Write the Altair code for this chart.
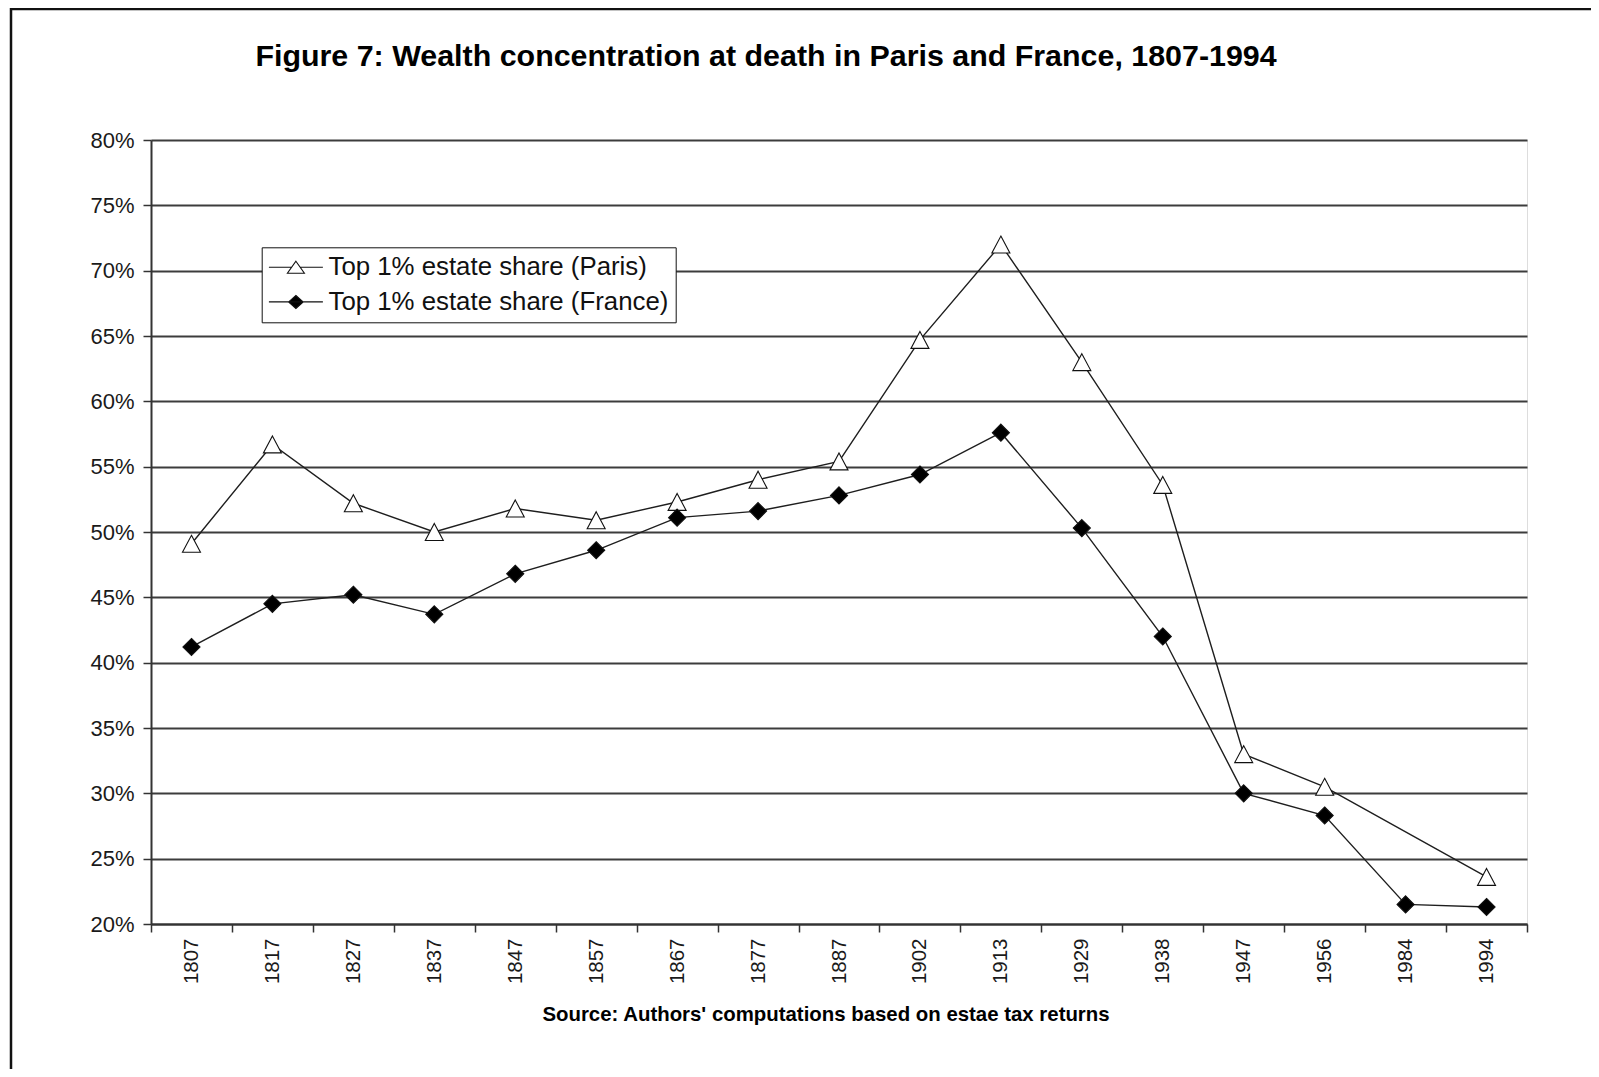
import altair as alt
import pandas as pd

FONT = "Liberation Sans"

years = ["1807", "1817", "1827", "1837", "1847", "1857", "1867", "1877", "1887",
         "1902", "1913", "1929", "1938", "1947", "1956", "1984", "1994"]
paris = [49.1, 56.7, 52.2, 50.0, 51.8, 50.9, 52.3, 54.0, 55.4,
         64.7, 72.0, 63.0, 53.6, 33.0, 30.5, None, 23.6]
france = [41.2, 44.5, 45.2, 43.7, 46.8, 48.6, 51.1, 51.6, 52.8,
          54.4, 57.6, 50.3, 42.0, 30.0, 28.3, 21.5, 21.3]
series_names = ["Top 1% estate share (Paris)", "Top 1% estate share (France)"]
y_ticks = [20, 25, 30, 35, 40, 45, 50, 55, 60, 65, 70, 75, 80]

title_text = "Figure 7: Wealth concentration at death in Paris and France, 1807-1994"
source_text = "Source: Authors' computations based on estae tax returns"

rows = []
for name, vals in zip(series_names, [paris, france]):
    for yr, v in zip(years, vals):
        rows.append({"year": yr, "share": v, "series": name})
df = pd.DataFrame(rows)

# marker shapes (custom symbol paths)
tri_path = "M0,-0.94L1,0.94L-1,0.94Z"
dia_path = "M0,-0.95L0.95,0L0,0.95L-0.95,0Z"
# legend symbols: line with marker in the middle
leg_tri = "M-2.7,0H-0.43M0.43,0H2.7M0,-0.6L0.85,0.6L-0.85,0.6Z"
leg_dia = "M-2.7,0H2.7M0,-0.65L0.73,0L0,0.65L-0.73,0Z"

x_enc = alt.X(
    "year:O", sort=years,
    scale=alt.Scale(type="band", paddingInner=0, paddingOuter=0),
    axis=alt.Axis(
        labelAngle=270, labelFont=FONT, labelFontSize=20.5, labelColor="#1a1a1a",
        labelPadding=6, tickBand="extent", tickSize=8, tickColor="#333",
        tickWidth=1.5, domainColor="#333", domainWidth=2, grid=False,
        title=source_text, titleFont=FONT, titleFontSize=20.4, titleFontWeight="bold",
        titleColor="#000", titleX=674.5, titleY=90, titleBaseline="middle",
        titleAlign="center",
    ),
)
y_enc = alt.Y(
    "share:Q",
    scale=alt.Scale(domain=[20, 80], nice=False, zero=False),
    axis=alt.Axis(
        values=y_ticks, labelExpr="datum.value + '%'", title=None,
        labelFont=FONT, labelFontSize=22, labelColor="#1a1a1a", labelPadding=9,
        tickSize=8, tickColor="#333", tickWidth=1.5, domainColor="#333",
        domainWidth=2, grid=True, gridColor="#3c3c3c", gridWidth=1.8,
    ),
)

frame = alt.Chart(pd.DataFrame({"k": [0]})).mark_rect(
    fillOpacity=0, stroke="#111", strokeWidth=2.5
).encode(
    x=alt.value(-140), x2=alt.value(3000), y=alt.value(-131), y2=alt.value(3000)
)

lines = alt.Chart(df).transform_filter("isValid(datum.share)").mark_line(
    color="#1e1e1e", strokeWidth=1.4
).encode(x=x_enc, y=y_enc, detail="series:N")

points = alt.Chart(df).transform_filter("isValid(datum.share)").mark_point(
    filled=True, stroke="#111", strokeWidth=1.1, size=324, opacity=1
).encode(
    x=x_enc, y=y_enc,
    shape=alt.Shape("series:N", scale=alt.Scale(domain=series_names, range=[tri_path, dia_path]), legend=None),
    fill=alt.Fill("series:N", scale=alt.Scale(domain=series_names, range=["white", "#000"]), legend=None),
)

leg = alt.Legend(
    title=None, orient="none", legendX=110.7, legendY=107.3, padding=7,
    strokeColor="#111", fillColor="white",
    labelFont=FONT, labelFontSize=25.8, labelColor="#111", labelLimit=700,
    symbolSize=400, symbolOffset=14.3, labelOffset=19.7, rowPadding=7.7,
    symbolStrokeWidth=1.1, symbolOpacity=1,
)

legend_layer = alt.Chart(df).transform_filter("false").mark_point(
    filled=True, strokeWidth=1.1, size=400, opacity=1
).encode(
    shape=alt.Shape("series:N", scale=alt.Scale(domain=series_names, range=[leg_tri, leg_dia]), legend=leg),
    fill=alt.Fill("series:N", scale=alt.Scale(domain=series_names, range=["white", "#000"]), legend=leg),
    stroke=alt.Stroke("series:N", scale=alt.Scale(domain=series_names, range=["#111", "#111"]), legend=leg),
)

chart = alt.layer(frame, lines, points, legend_layer).resolve_scale(
    shape="independent", fill="independent", stroke="independent"
).properties(
    width=1376, height=784,
    padding={"left": 143, "top": 132, "right": 64, "bottom": 145},
    autosize=alt.AutoSizeParams(type="none"),
    title=alt.TitleParams(
        title_text, font=FONT, fontSize=30.4, fontWeight="bold", color="#000",
        anchor="middle", frame="group", dx=-73, baseline="middle", offset=-79.5,
    ),
).configure_view(stroke="#333", strokeWidth=2).configure_legend(
    strokeWidth=1.5
).configure(background="white")

chart.save("out.html", embed_options={"renderer": "svg", "actions": False})
